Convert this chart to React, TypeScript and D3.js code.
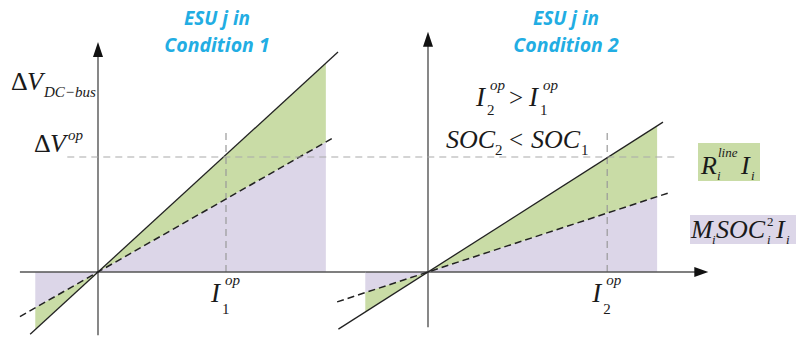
import React from 'react';
import * as d3 from 'd3';

// values (x in units of I1op, y in units of ΔVop)
const panelTitles = ['Condition 1', 'Condition 2'];
const opCurrent = [1.0, 1.4];            // I1op, I2op
const totalSlope = [1.02, 0.71];         // solid line  (R line + SOC part)
const socSlope = [0.635, 0.366];         // dashed line (M SOC^2 I)
const solidRange = [[-0.53, 1.875], [-0.7, 1.836]];
const dashedRange = [[-0.61, 1.84], [-0.71, 1.875]];
const fillRange = [[-0.49, 1.78], [-0.49, 1.79]];
const xAxisRange = [[-0.61, 2.09], [-0.49, 2.19]];
const yAxisRange = [[-0.55, 2.0], [-0.48, 2.09]];
const opGuideTop = [1.25, 1.25];
const opVoltage = 1.0;
const opVoltageRange = [-0.24, 1.95];    // from left panel to right panel

const W = 796;
const H = 337;
const origins = [98, 428];
const unitX = 128;
const green = '#c9dca6';
const purple = '#dcd6e8';
const ink = '#222';
const cyan = '#22ade3';
const mathFont = '"Liberation Serif", "DejaVu Serif", serif';
const titleFont = '"Open Sans", Lato, sans-serif';

const yScale = d3.scaleLinear().domain([0, 1]).range([272, 157]);
const xScales = origins.map(o => d3.scaleLinear().domain([0, 1]).range([o, o + unitX]));

const Sym = ({ x, y, children, size = 25, italic = true }: any) => (
    <text x={x} y={y} fontFamily={mathFont} fontSize={size} fontStyle={italic ? 'italic' : 'normal'} fill="#1a1a1a">
        {children}
    </text>
);

const Panel = ({ i }: { i: number }) => {
    const xs = xScales[i];
    const solid = (v: number) => v * totalSlope[i];
    const dashed = (v: number) => v * socSlope[i];
    const fillPts = [fillRange[i][0], 0, fillRange[i][1]];

    const purpleArea = d3.area<number>().x(d => xs(d)).y0(yScale(0)).y1(d => yScale(dashed(d)))(fillPts);
    const greenArea = d3.area<number>().x(d => xs(d)).y0(d => yScale(dashed(d))).y1(d => yScale(solid(d)))(fillPts);
    const line = d3.line<[number, number]>().x(d => xs(d[0])).y(d => yScale(d[1]));

    const solidPath = line(solidRange[i].map(v => [v, solid(v)] as [number, number]));
    const dashedPath = line(dashedRange[i].map(v => [v, dashed(v)] as [number, number]));

    const ox = xs(0);
    const oy = yScale(0);
    const yTop = yScale(yAxisRange[i][1]);
    const yBot = yScale(yAxisRange[i][0]);
    const xL = xs(xAxisRange[i][0]);
    const xR = xs(xAxisRange[i][1]);
    const ixop = xs(opCurrent[i]);
    const tx = i === 0 ? 217 : 566;

    return (
        <g>
            <path d={purpleArea || ''} fill={purple} />
            <path d={greenArea || ''} fill={green} />
            <line x1={ixop} x2={ixop} y1={yScale(0)} y2={yScale(opGuideTop[i])}
                stroke="#999" strokeWidth={1.2} strokeDasharray="7,5" />
            {/* axes */}
            <line x1={ox} x2={ox} y1={yBot} y2={yTop + 12} stroke="#555" strokeWidth={1.4} />
            <path d={`M${ox},${yTop} L${ox - 5},${yTop + 15} L${ox + 5},${yTop + 15} Z`} fill="#111" />
            <line x1={xL} x2={i === 1 ? xR - 10 : xR} y1={oy} y2={oy} stroke="#555" strokeWidth={1.4} />
            {i === 1 && <path d={`M${xR},${oy} L${xR - 14},${oy - 5} L${xR - 14},${oy + 5} Z`} fill="#111" />}
            <path d={solidPath || ''} fill="none" stroke={ink} strokeWidth={1.3} />
            <path d={dashedPath || ''} fill="none" stroke={ink} strokeWidth={1.5} strokeDasharray="7,4" />
            {/* I op label */}
            <Sym x={ixop - 15} y={302} size={27}>I</Sym>
            <Sym x={ixop - 1} y={285} size={15}>op</Sym>
            <Sym x={ixop - 4} y={314} size={15} italic={false}>{i + 1}</Sym>
            {/* title */}
            <text x={tx} y={25} textAnchor="middle" fill={cyan}
                fontFamily={titleFont} fontWeight={700} fontStyle="italic" fontSize={19}>
                ESU j in
            </text>
            <text x={tx} y={52} textAnchor="middle" fill={cyan}
                fontFamily={titleFont} fontWeight={700} fontStyle="italic" fontSize={19.5}>
                {panelTitles[i]}
            </text>
        </g>
    );
};

export default function App() {
    const yOp = yScale(opVoltage);
    return (
        <svg width={W} height={H} style={{ position: 'absolute', left: 0, top: 0, background: '#fff' }}>
            {[0, 1].map(i => <Panel key={i} i={i} />)}
            <line x1={xScales[0](opVoltageRange[0])} x2={xScales[1](opVoltageRange[1])} y1={yOp} y2={yOp}
                stroke="#aaa" strokeWidth={1.2} strokeDasharray="7,5" />

            {/* y axis label */}
            <Sym x={11} y={90} size={26} italic={false}>Δ</Sym>
            <Sym x={27} y={90} size={26}>V</Sym>
            <Sym x={44} y={97} size={15}>DC−bus</Sym>
            <Sym x={34} y={152} size={26} italic={false}>Δ</Sym>
            <Sym x={50} y={152} size={26}>V</Sym>
            <Sym x={68} y={140} size={15}>op</Sym>

            {/* conditions */}
            <Sym x={476} y={106} size={27}>I</Sym>
            <Sym x={490} y={90} size={15}>op</Sym>
            <Sym x={487} y={115} size={15} italic={false}>2</Sym>
            <Sym x={509} y={106} italic={false}>&gt;</Sym>
            <Sym x={529} y={106} size={27}>I</Sym>
            <Sym x={543} y={90} size={15}>op</Sym>
            <Sym x={540} y={115} size={15} italic={false}>1</Sym>

            <Sym x={446} y={148} size={26}>SOC</Sym>
            <Sym x={495} y={155} size={15} italic={false}>2</Sym>
            <Sym x={509} y={148} italic={false}>&lt;</Sym>
            <Sym x={531} y={148} size={26}>SOC</Sym>
            <Sym x={581} y={155} size={15} italic={false}>1</Sym>

            {/* legend */}
            <rect x={698} y={143} width={62} height={38} fill={green} />
            <Sym x={701} y={174} size={26}>R</Sym>
            <Sym x={718} y={157} size={13}>line</Sym>
            <Sym x={717} y={180} size={13}>i</Sym>
            <Sym x={741} y={174} size={26}>I</Sym>
            <Sym x={751} y={180} size={13}>i</Sym>

            <rect x={690} y={215} width={110} height={29} fill={purple} />
            <Sym x={691} y={238} size={26}>M</Sym>
            <Sym x={712} y={244} size={13}>i</Sym>
            <Sym x={716} y={238} size={26}>SOC</Sym>
            <Sym x={767} y={226} size={13} italic={false}>2</Sym>
            <Sym x={767} y={244} size={13}>i</Sym>
            <Sym x={776} y={238} size={26}>I</Sym>
            <Sym x={786} y={244} size={13}>i</Sym>
        </svg>
    );
}
